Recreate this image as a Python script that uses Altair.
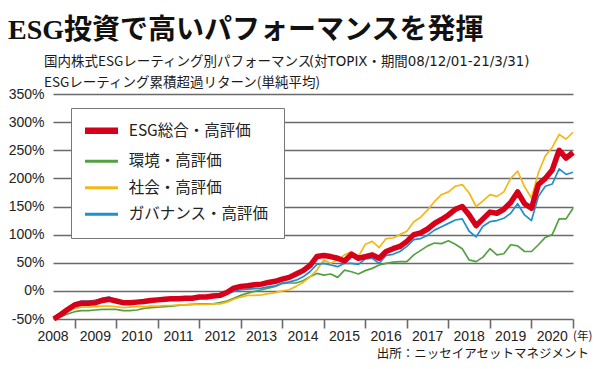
import altair as alt
import pandas as pd

# ---------------- data ----------------
series_names = ["ESG総合・高評価", "環境・高評価", "社会・高評価", "ガバナンス・高評価"]
series_colors = ["#d7001a", "#55a043", "#f4b816", "#1e8fce"]

# time axis in fiscal-year units, one point every two months
t = [round(2008.5 + i / 6, 4) for i in range(76)]

esg = [-50, -42, -33, -25, -22, -22, -21, -17, -15, -18, -21, -21, -20, -19, -17, -16, -15, -14,
       -14, -13, -13, -11, -11, -9, -8, -3, 5, 8, 9, 11, 12, 15, 17, 21, 24, 30, 36, 45,
       61, 63, 61, 58, 53, 65, 58, 61, 64, 58, 70, 75, 79, 88, 100, 103, 110, 120, 127, 135,
       145, 150, 135, 116, 128, 140, 138, 145, 157, 176, 155, 147, 189, 200, 215, 250, 236, 246]
env = [-50, -46, -41, -37, -35, -35, -34, -33, -33, -33, -35, -35, -34, -31, -30, -29, -28, -27,
       -26, -25, -24, -23, -23, -23, -21, -18, -13, -8, -4, -1, 2, 5, 8, 13, 14, 14, 18, 25,
       31, 28, 30, 24, 37, 34, 30, 36, 40, 46, 49, 51, 52, 52, 64, 72, 80, 85, 84, 89,
       83, 75, 55, 52, 60, 75, 64, 66, 82, 80, 70, 70, 82, 95, 100, 128, 128, 147]
soc = [-50, -44, -37, -31, -29, -29, -28, -27, -27, -28, -30, -29, -28, -28, -27, -27, -26, -26,
       -25, -25, -24, -24, -24, -23, -23, -20, -15, -11, -8, -8, -7, -5, -3, 0, 2, 8, 15, 25,
       37, 55, 49, 55, 64, 70, 61, 83, 88, 77, 93, 94, 100, 106, 123, 131, 144, 159, 171, 176,
       186, 189, 174, 150, 160, 171, 168, 176, 200, 213, 185, 165, 210, 240, 255, 278, 270, 282]
gov = [-50, -40, -30, -22, -18, -18, -17, -13, -11, -17, -20, -20, -18, -17, -16, -15, -13, -12,
       -13, -13, -12, -11, -10, -9, -8, -5, -1, 2, 3, 4, 5, 7, 9, 14, 16, 19, 25, 34,
       47, 49, 46, 43, 49, 49, 47, 57, 58, 49, 63, 65, 70, 79, 91, 93, 99, 108, 114, 120,
       126, 128, 106, 96, 115, 123, 125, 129, 138, 155, 135, 125, 168, 186, 190, 217, 207, 211]

year_labels = [str(y) for y in range(2008, 2021)]
year_label_pos = [2008.48] + [y + 0.5 for y in range(2009, 2021)]
tick_years = list(range(2009, 2022))
y_ticks = list(range(-50, 351, 50))

title_text = "ESG投資で高いパフォーマンスを発揮"
sub1_text = "国内株式ESGレーティング別パフォーマンス"
sub1b_text = "(対TOPIX・期間08/12/01-21/3/31)"
sub2_text = "ESGレーティング累積超過リターン(単純平均)"
unit_text = "(年)"
source_text = "出所：ニッセイアセットマネジメント"

# ---------------- tables ----------------
# draw order: green, yellow, blue, then red on top
rows = []
for name, vals in [(series_names[1], env), (series_names[2], soc),
                   (series_names[3], gov), (series_names[0], esg)]:
    for tt, v in zip(t, vals):
        rows.append({"t": tt, "v": v, "series": name})
df = pd.DataFrame(rows)
labels_df = pd.DataFrame({"label": year_labels, "pos": year_label_pos})

W, H = 520, 225
GRID = "#6a6a6a"
JP = "Noto Sans CJK JP"
MAIN = series_names[0]

legend = alt.Legend(
    title=None, orient="none", legendX=18, legendY=14, direction="vertical",
    fillColor="white", strokeColor="#777777", padding=15,
    symbolType="stroke", symbolSize=1089, symbolOffset=7.75,
    labelFontSize=15.5, labelFont=JP,
    labelColor="#222222", labelOffset=19.5, rowPadding=9.5, labelLimit=400,
    symbolStrokeWidth={"expr": f"datum.value === '{MAIN}' ? 6.5 : 3"},
)

xscale = alt.Scale(domain=[2008.48, 2021.0], nice=False, zero=False)

lines = alt.Chart(df).mark_line(strokeJoin="round").encode(
    x=alt.X("t:Q", scale=xscale,
            axis=alt.Axis(values=tick_years, labels=False, grid=False, domain=False,
                          ticks=True, tickSize=9, tickColor=GRID, tickWidth=1.6, title=None)),
    y=alt.Y("v:Q", scale=alt.Scale(domain=[-50, 350], nice=False, zero=False),
            axis=alt.Axis(values=y_ticks, labelExpr="datum.value + '%'", grid=True,
                          gridColor=GRID, gridWidth=1.6, gridOpacity=1, domain=False,
                          ticks=False, labelPadding=9, labelFontSize=14,
                          labelFont="Liberation Sans", labelColor="#222222", title=None)),
    color=alt.Color("series:N", scale=alt.Scale(domain=series_names, range=series_colors),
                    legend=legend),
    strokeWidth=alt.condition(alt.datum.series == MAIN, alt.value(5.5), alt.value(1.7)),
)

year_text = alt.Chart(labels_df).mark_text(
    baseline="top", align="center", fontSize=14, font="Liberation Sans", color="#222222"
).encode(x=alt.X("pos:Q", scale=xscale), y=alt.value(H + 11), text="label:N")


def txt(s, x, y, size, font=JP, weight="normal", align="left", color="#1a1a1a"):
    return alt.Chart(pd.DataFrame({"s": [s]})).mark_text(
        align=align, baseline="alphabetic", fontSize=size, font=font,
        fontWeight=weight, color=color
    ).encode(x=alt.value(x), y=alt.value(y), text="s:N")


title = txt(title_text, -45, -55, 28, font="Liberation Serif, Noto Sans CJK JP",
            weight="bold", color="#111111")
sub1 = txt(sub1_text, -9, -28, 13.5)
sub1b = txt(sub1b_text, 256, -28, 13.4, font="DejaVu Sans, Noto Sans CJK JP")
sub2 = txt(sub2_text, -9, -7, 13.5)
unit = txt(unit_text, 520, H + 21, 11.5)
source = txt(source_text, 536, H + 39, 12.5, align="right")

chart = alt.layer(lines, year_text, title, sub1, sub1b, sub2, unit, source).properties(
    width=W, height=H,
    autosize=alt.AutoSizeParams(type="none"),
    padding={"left": 45, "top": 86, "right": 19, "bottom": 42},
).configure_view(stroke=None)

chart.save("out.html", embed_options={"renderer": "svg", "actions": False})
